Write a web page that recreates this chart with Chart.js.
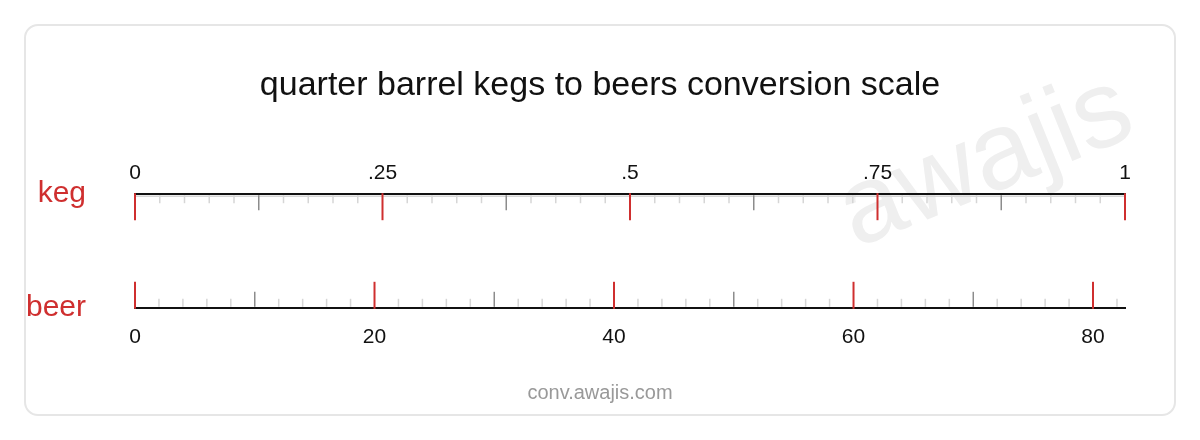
<!DOCTYPE html>
<html lang="en">
<head>
  <meta charset="UTF-8">
  <title>quarter barrel kegs to beers conversion scale</title>
  <script src="https://cdn.jsdelivr.net/npm/chart.js"></script>
  <style>
    body {
      margin: 0;
      background: #fff;
      font-family: 'Liberation Sans', Arial, sans-serif;
    }
    .card {
      position: absolute;
      left: 24px;
      top: 24px;
      width: 1152px;
      height: 392px;
      box-sizing: border-box;
      border: 2px solid #e6e6e6;
      border-radius: 14px;
    }
    .wrap {
      position: absolute;
      left: 0;
      top: 0;
      width: 1200px;
      height: 440px;
    }
  </style>
</head>
<body>
  <div class="card"></div>
  <div class="wrap">
    <canvas id="scaleChart" width="1200" height="440"></canvas>
  </div>

  <script>
    // one quarter barrel = 7.75 gal = 992 oz -> 12 oz beers
    const beersPerKeg = 82.67;

    const kegTickValues = [0, 0.25, 0.5, 0.75, 1];
    const kegTickLabels = ['0', '.25', '.5', '.75', '1'];
    const beerTickValues = [0, 20, 40, 60, 80];
    const beerTickLabels = ['0', '20', '40', '60', '80'];
    const rowLabels = ['beer', 'keg'];

    const RED = '#cf2f2f';
    const FONT = "'Liberation Sans', Arial, Helvetica, sans-serif";

    function drawRuler(ctx, scale, minorStep, max, y, dir) {
      const n = Math.floor(max / minorStep + 1e-6);
      for (let i = 0; i <= n; i++) {
        const x = scale.getPixelForValue(i * minorStep);
        let len = 9, color = '#d6d6d6', w = 1.5, start = 1;
        if (i % 10 === 0) {
          len = 26; color = RED; w = 2; start = -1;
        } else if (i % 5 === 0) {
          len = 16; color = '#8c8c8c';
        }
        ctx.beginPath();
        ctx.strokeStyle = color;
        ctx.lineWidth = w;
        ctx.moveTo(x, y + dir * start);
        ctx.lineTo(x, y + dir * len);
        ctx.stroke();
      }
    }

    const rulerTicks = {
      id: 'rulerTicks',
      beforeDraw(chart) {
        const ctx = chart.ctx;
        ctx.save();
        ctx.translate(986, 163);
        ctx.rotate(-22 * Math.PI / 180);
        ctx.font = '110px ' + FONT;
        ctx.fillStyle = '#efefef';
        ctx.textAlign = 'center';
        ctx.textBaseline = 'middle';
        ctx.fillText('awajis', 0, 0);
        ctx.restore();
      },
      afterDraw(chart) {
        const ctx = chart.ctx;
        const area = chart.chartArea;
        ctx.save();
        // pale band under the keg line
        ctx.beginPath();
        ctx.strokeStyle = '#d6d6d6';
        ctx.lineWidth = 1.5;
        ctx.moveTo(area.left, area.top + 2);
        ctx.lineTo(area.right, area.top + 2);
        ctx.stroke();
        drawRuler(ctx, chart.scales.keg, kegTickValues[1] / 10, 1, area.top, 1);
        drawRuler(ctx, chart.scales.beer, beerTickValues[1] / 10, beersPerKeg, area.bottom, -1);
        ctx.restore();
      }
    };

    const ctx = document.getElementById('scaleChart').getContext('2d');
    const scaleChart = new Chart(ctx, {
      type: 'scatter',
      data: { datasets: [] },
      plugins: [rulerTicks],
      options: {
        responsive: false,
        animation: false,
        layout: { padding: 0 },
        plugins: {
          legend: { display: false },
          tooltip: { enabled: false },
          title: {
            display: true,
            text: 'quarter barrel kegs to beers conversion scale',
            color: '#111',
            font: { family: FONT, size: 34, weight: 'normal', lineHeight: 1.2 },
            padding: { top: 65.6, bottom: 46.6 }
          },
          subtitle: {
            display: true,
            position: 'bottom',
            text: 'conv.awajis.com',
            color: '#999',
            font: { family: FONT, size: 20, weight: 'normal', lineHeight: 1.2 },
            padding: { top: 14.8, bottom: 34.2 }
          }
        },
        scales: {
          keg: {
            type: 'linear',
            axis: 'x',
            position: 'top',
            min: 0,
            max: 1,
            afterBuildTicks: s => { s.ticks = kegTickValues.map(v => ({ value: v })); },
            grid: { display: false, drawTicks: false },
            border: { display: true, color: '#111', width: 2 },
            ticks: {
              padding: 8,
              color: '#111',
              maxRotation: 0,
              font: { family: FONT, size: 21, lineHeight: 1.2 },
              callback: v => kegTickLabels[kegTickValues.indexOf(v)]
            }
          },
          beer: {
            type: 'linear',
            axis: 'x',
            position: 'bottom',
            min: 0,
            max: beersPerKeg,
            afterBuildTicks: s => { s.ticks = beerTickValues.map(v => ({ value: v })); },
            grid: { display: false, drawTicks: false },
            border: { display: true, color: '#111', width: 2 },
            ticks: {
              padding: 17,
              color: '#111',
              maxRotation: 0,
              font: { family: FONT, size: 21, lineHeight: 1.2 },
              callback: v => beerTickLabels[beerTickValues.indexOf(v)]
            }
          },
          y: {
            type: 'linear',
            position: 'left',
            min: 0,
            max: 1,
            afterBuildTicks: s => { s.ticks = [{ value: 0 }, { value: 1 }]; },
            afterFit: s => { s.width = 135; },
            grid: { display: false, drawTicks: false },
            border: { display: false },
            ticks: {
              padding: 49,
              color: RED,
              font: { family: FONT, size: 30, lineHeight: 1.2 },
              callback: v => rowLabels[v]
            }
          },
          yRight: {
            type: 'linear',
            position: 'right',
            min: 0,
            max: 1,
            afterFit: s => { s.width = 75; },
            grid: { display: false, drawTicks: false },
            border: { display: false },
            ticks: { display: false }
          }
        }
      }
    });
  </script>
</body>
</html>
